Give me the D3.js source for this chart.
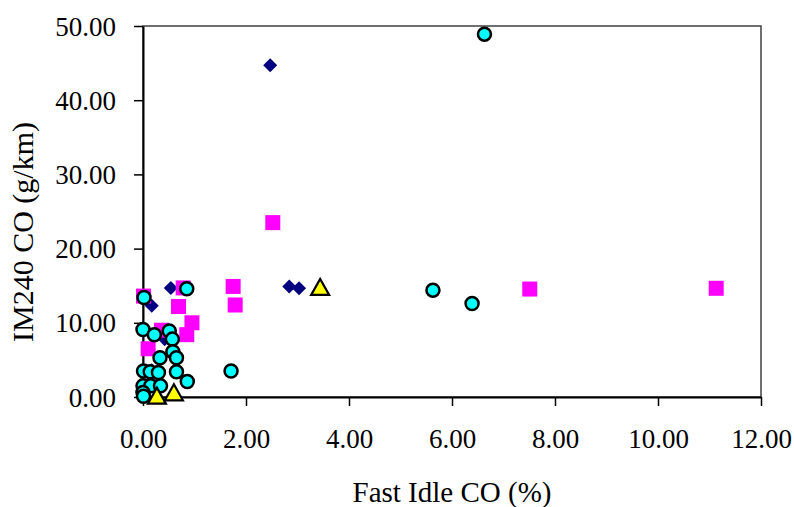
<!DOCTYPE html>
<html>
<head>
<meta charset="utf-8">
<script src="https://cdn.jsdelivr.net/npm/d3@7"></script>
<style>
  html, body { margin: 0; padding: 0; background: #fff; }
  svg { display: block; }
  text { font-family: "Liberation Serif", "Times New Roman", serif; fill: #000; }
</style>
</head>
<body>
<svg id="chart" width="794" height="507"></svg>
<script>
// ---- data ----
const xTicks = [0, 2, 4, 6, 8, 10, 12];
const yTicks = [0, 10, 20, 30, 40, 50];
const xTitle = "Fast Idle CO (%)";
const yTitle = "IM240 CO (g/km)";

// series 1: navy diamonds
const diamondX = [2.47, 2.84, 3.03, 0.54, 0.17, 0.42, 0.17];
const diamondY = [44.7, 14.9, 14.65, 14.7, 12.3, 7.8, 3.6];

// series 2: magenta squares
const squareX = [2.52, 1.75, 1.79, 7.51, 11.13, 0.78, 0.01, 0.69, 0.95, 0.85, 0.36, 0.10];
const squareY = [23.5, 14.9, 12.4, 14.55, 14.65, 14.7, 13.6, 12.2, 10.0, 8.4, 9.0, 6.5];

// series 3: cyan circles
const circleX = [6.63, 5.63, 6.39, 1.71, 0.85, 0.02, 0.00, 0.22, 0.51, 0.57, 0.58, 0.33, 0.65,
                 0.01, 0.14, 0.30, 0.65, 0.86, 0.00, 0.15, 0.34, 0.00, 0.01];
const circleY = [48.9, 14.4, 12.6, 3.5, 14.6, 13.4, 9.1, 8.4, 8.9, 7.8, 6.1, 5.3, 5.3,
                 3.5, 3.4, 3.3, 3.4, 2.1, 1.5, 1.5, 1.5, 0.6, 0.1];

// series 4: yellow triangles
const triangleX = [3.44, 0.27, 0.60];
const triangleY = [14.7, 0.05, 0.5];

// ---- layout ----
const svg = d3.select("#chart");
const plotL = 143, plotT = 26, plotR = 761, plotB = 397;

const x = d3.scaleLinear().domain([0, 12]).range([plotL, plotR]);
const y = d3.scaleLinear().domain([0, 50]).range([plotB, plotT]);

// plot area border
svg.append("rect")
  .attr("x", plotL).attr("y", plotT)
  .attr("width", plotR - plotL).attr("height", plotB - plotT)
  .attr("fill", "none").attr("stroke", "#404040").attr("stroke-width", 1.5);

// axes
const fmt = d3.format(".2f");
const xAxis = svg.append("g").attr("transform", `translate(0,${plotB})`)
  .call(d3.axisBottom(x).tickValues(xTicks).tickFormat(fmt).tickSize(9).tickPadding(23).tickSizeOuter(0));
const yAxis = svg.append("g").attr("transform", `translate(${plotL},0)`)
  .call(d3.axisLeft(y).tickValues(yTicks).tickFormat(fmt).tickSize(9).tickPadding(18).tickSizeOuter(0));

[xAxis, yAxis].forEach(g => {
  g.selectAll("path.domain").attr("stroke", "#000").attr("stroke-width", 2);
  g.selectAll(".tick line").attr("stroke", "#000").attr("stroke-width", 1.5);
  g.selectAll(".tick text")
    .style("font-family", '"Liberation Serif", "Times New Roman", serif')
    .style("font-size", "27px").attr("fill", "#000");
});
xAxis.selectAll(".tick text").attr("dy", "0.71em");
yAxis.selectAll(".tick text").attr("dy", "0.34em");

// titles
svg.append("text")
  .attr("x", 452).attr("y", 502)
  .attr("text-anchor", "middle").style("font-size", "29px").text(xTitle);
svg.append("text")
  .attr("transform", `translate(33,232) rotate(-90)`)
  .attr("text-anchor", "middle").style("font-size", "30px").text(yTitle);

// marks
const marks = svg.append("g");

const diamonds = d3.zip(diamondX, diamondY);
marks.selectAll("path.diamond").data(diamonds).join("path")
  .attr("class", "diamond")
  .attr("d", d3.symbol().type(d3.symbolDiamond2).size(125))
  .attr("transform", d => `translate(${x(d[0])},${y(d[1])})`)
  .attr("fill", "#000080");

const squares = d3.zip(squareX, squareY);
marks.selectAll("rect.sq").data(squares).join("rect")
  .attr("class", "sq")
  .attr("x", d => x(d[0]) - 7.5).attr("y", d => y(d[1]) - 7.5)
  .attr("width", 15).attr("height", 15)
  .attr("fill", "#ff00ff");

const circles = d3.zip(circleX, circleY);
marks.selectAll("circle.c").data(circles).join("circle")
  .attr("class", "c")
  .attr("cx", d => x(d[0])).attr("cy", d => y(d[1]))
  .attr("r", 6.5)
  .attr("fill", "#00ffff").attr("stroke", "#000").attr("stroke-width", 2.5);

const triangles = d3.zip(triangleX, triangleY);
marks.selectAll("path.tri").data(triangles).join("path")
  .attr("class", "tri")
  .attr("d", "M0,-9 L9,7 L-9,7 Z")
  .attr("transform", d => `translate(${x(d[0])},${y(d[1])})`)
  .attr("fill", "#ffff00").attr("stroke", "#000").attr("stroke-width", 2.2)
  .attr("stroke-linejoin", "miter");
</script>
</body>
</html>
